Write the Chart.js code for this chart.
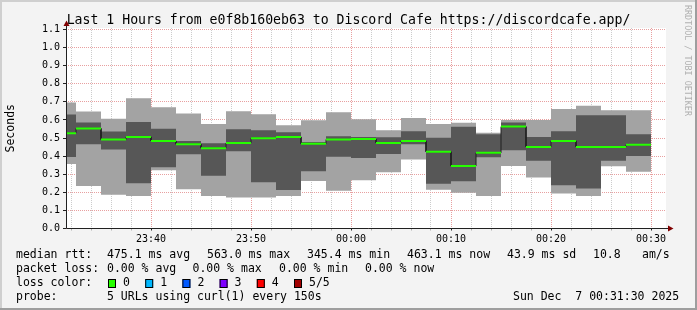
<!DOCTYPE html>
<html>
<head>
<meta charset="utf-8">
<script src="https://cdn.jsdelivr.net/npm/chart.js@4/dist/chart.umd.min.js"></script>
<style>
  html, body { margin: 0; padding: 0; background: #f3f3f3; }
  #wrap { width: 697px; height: 310px; }
</style>
</head>
<body>
<div id="wrap"><canvas id="chart" width="697" height="310"></canvas></div>
<script>
{
    const mono = 'DejaVu Sans Mono';

    // time range of the graph and the rrd step stamps (each value covers the 150s before its stamp)
    const axisStart = '23:31:30';
    const axisEnd = '00:31:30';
    const stamps = ['23:32:30', '23:35:00', '23:37:30', '23:40:00', '23:42:30', '23:45:00',
        '23:47:30', '23:50:00', '23:52:30', '23:55:00', '23:57:30', '00:00:00',
        '00:02:30', '00:05:00', '00:07:30', '00:10:00', '00:12:30', '00:15:00',
        '00:17:30', '00:20:00', '00:22:30', '00:25:00', '00:27:30', '00:30:00'];

    // sorted pings, seconds
    const pingMax = [0.696, 0.647, 0.606, 0.720, 0.670, 0.636, 0.578, 0.648, 0.632, 0.571, 0.598, 0.643,
        0.604, 0.543, 0.610, 0.578, 0.584, 0.529, 0.600, 0.599, 0.661, 0.678, 0.654, 0.654];
    const pingHigh = [0.630, 0.586, 0.536, 0.588, 0.551, 0.483, 0.471, 0.549, 0.543, 0.532, 0.478, 0.510,
        0.505, 0.504, 0.538, 0.501, 0.562, 0.521, 0.586, 0.506, 0.538, 0.626, 0.626, 0.521];
    const median = [0.527, 0.553, 0.492, 0.506, 0.484, 0.466, 0.444, 0.473, 0.499, 0.506, 0.468, 0.492,
        0.494, 0.473, 0.484, 0.424, 0.345, 0.418, 0.563, 0.451, 0.484, 0.451, 0.451, 0.463];
    const pingLow = [0.395, 0.465, 0.437, 0.250, 0.339, 0.410, 0.291, 0.427, 0.256, 0.213, 0.317, 0.396,
        0.390, 0.412, 0.466, 0.247, 0.261, 0.394, 0.433, 0.374, 0.239, 0.221, 0.374, 0.401];
    const pingMin = [0.356, 0.235, 0.187, 0.179, 0.322, 0.217, 0.180, 0.171, 0.171, 0.179, 0.263, 0.208,
        0.267, 0.311, 0.381, 0.214, 0.197, 0.180, 0.346, 0.282, 0.193, 0.179, 0.344, 0.313];

    const yTicks = [0.0, 0.1, 0.2, 0.3, 0.4, 0.5, 0.6, 0.7, 0.8, 0.9, 1.0, 1.1];
    const xLabels = ['23:40', '23:50', '00:00', '00:10', '00:20', '00:30'];

    const titleText = 'Last 1 Hours from e0f8b160eb63 to Discord Cafe https://discordcafe.app/';
    const rttStats = ['475.1 ms avg', '563.0 ms max', '345.4 ms min', '463.1 ms now', '43.9 ms sd', '10.8', 'am/s'];
    const lossStats = ['0.00 % avg', '0.00 % max', '0.00 % min', '0.00 % now'];
    const lossLabels = ['0', '1', '2', '3', '4', '5/5'];
    const lossColors = ['#26ff00', '#00b8ff', '#0059ff', '#7e00ff', '#ff0000', '#a10000'];
    const probeText = '5 URLs using curl(1) every 150s';
    const dateText = 'Sun Dec  7 00:31:30 2025';

    // minutes after 23:30
    function toMin(t) {
        const [h, m, s] = t.split(':').map(Number);
        return (h < 12 ? h + 24 : h) * 60 + m + s / 60 - (23 * 60 + 30);
    }
    function toClock(v) {
        const t = Math.round(23 * 60 + 30 + v);
        const h = Math.floor(t / 60) % 24, m = t % 60;
        return String(h).padStart(2, '0') + ':' + String(m).padStart(2, '0');
    }

    const xMin = toMin(axisStart);
    const xMax = toMin(axisEnd);
    const ends = stamps.map(toMin);
    const starts = ends.map(e => Math.max(e - 2.5, xMin));

    // each value as a flat step over its column
    function steps(vals) {
        let pts = [];
        vals.forEach((v, i) => pts.push({x: starts[i], y: v}, {x: ends[i], y: v}));
        return pts;
    }
    // same, but broken between columns (only the flat parts)
    function flats(vals) {
        let pts = [];
        vals.forEach((v, i) => pts.push({x: starts[i], y: v}, {x: ends[i], y: v}, {x: ends[i], y: null}));
        return pts;
    }

    const rrdFrame = {
        id: 'rrdFrame',
        beforeDraw(chart) {
            const {ctx, chartArea: a, width, height} = chart;
            ctx.save();
            ctx.fillStyle = '#f3f3f3';
            ctx.fillRect(0, 0, width, height);
            ctx.fillStyle = '#cfcfcf';
            ctx.fillRect(0, 0, width, 2);
            ctx.fillRect(0, 0, 2, height);
            ctx.fillStyle = '#9e9e9e';
            ctx.fillRect(0, height - 2, width, 2);
            ctx.fillRect(width - 2, 0, 2, height);
            ctx.fillStyle = '#ffffff';
            ctx.fillRect(a.left, a.top, a.right - a.left, a.bottom - a.top);
            ctx.restore();
        },
        afterDraw(chart) {
            const {ctx, chartArea: a} = chart;
            const x0 = Math.floor(a.left) + 0.5;
            const y0 = Math.floor(a.bottom) + 0.5;
            ctx.save();

            // axes
            ctx.strokeStyle = '#202020';
            ctx.lineWidth = 1;
            ctx.beginPath();
            ctx.moveTo(x0, 25);
            ctx.lineTo(x0, y0);
            ctx.lineTo(a.right + 4, y0);
            ctx.stroke();

            // arrows
            ctx.fillStyle = '#800000';
            ctx.beginPath();
            ctx.moveTo(x0 - 3, 26);
            ctx.lineTo(x0 + 3, 26);
            ctx.lineTo(x0, 20.5);
            ctx.closePath();
            ctx.fill();
            ctx.beginPath();
            ctx.moveTo(a.right + 2, y0 - 3);
            ctx.lineTo(a.right + 2, y0 + 3);
            ctx.lineTo(a.right + 7.5, y0);
            ctx.closePath();
            ctx.fill();

            // legend
            ctx.fillStyle = '#000';
            ctx.font = '11.5px "' + mono + '"';
            ctx.textBaseline = 'middle';
            ctx.textAlign = 'left';
            const rows = [255.5, 269.5, 283.5, 297.5];

            ctx.fillText('median rtt:', 16, rows[0]);
            [107, 207, 307, 407, 507, 593, 642].forEach((x, i) => ctx.fillText(rttStats[i], x, rows[0]));

            ctx.fillText('packet loss:', 16, rows[1]);
            [107, 192.5, 279, 365].forEach((x, i) => ctx.fillText(lossStats[i], x, rows[1]));

            ctx.fillText('loss color:', 16, rows[2]);
            lossLabels.forEach((l, i) => {
                const bx = 108 + i * 37.2;
                ctx.fillStyle = lossColors[i];
                ctx.fillRect(bx, 279, 8, 9);
                ctx.strokeStyle = '#000';
                ctx.strokeRect(bx + 0.5, 279.5, 7, 8);
                ctx.fillStyle = '#000';
                ctx.fillText(l, bx + 15, rows[2]);
            });

            ctx.fillText('probe:', 16, rows[3]);
            ctx.fillText(probeText, 107, rows[3]);
            ctx.fillText(dateText, 513, rows[3]);

            // watermark
            ctx.translate(687.5, 5);
            ctx.rotate(Math.PI / 2);
            ctx.fillStyle = '#b0b0b0';
            ctx.font = '8.4px "' + mono + '"';
            ctx.fillText('RRDTOOL / TOBI OETIKER', 0, 0);
            ctx.restore();
        }
    };

    const ctx = document.getElementById('chart');

    new Chart(ctx, {
        type: 'line',
        data: {
            datasets: [
                {label: 'median', data: flats(median), borderColor: '#26ff00', borderWidth: 2, pointRadius: 0, fill: false, order: 1},
                {label: 'median step', data: steps(median), borderColor: '#202020', borderWidth: 1, pointRadius: 0, fill: false, order: 2},
                {label: 'ping 2', data: steps(pingLow), borderColor: 'transparent', borderWidth: 0, pointRadius: 0, fill: false, order: 3},
                {label: 'ping 4', data: steps(pingHigh), borderColor: 'transparent', borderWidth: 0, pointRadius: 0, backgroundColor: '#575757', fill: '-1', order: 4},
                {label: 'ping 1', data: steps(pingMin), borderColor: 'transparent', borderWidth: 0, pointRadius: 0, fill: false, order: 5},
                {label: 'ping 5', data: steps(pingMax), borderColor: 'transparent', borderWidth: 0, pointRadius: 0, backgroundColor: '#a3a3a3', fill: '-1', order: 6}
            ]
        },
        options: {
            responsive: false,
            animation: false,
            devicePixelRatio: 1,
            layout: {padding: 0},
            plugins: {
                legend: {display: false},
                tooltip: {enabled: false},
                title: {
                    display: true,
                    text: titleText,
                    color: '#000',
                    font: {family: mono, size: 13.2, weight: 'normal', lineHeight: 1.2},
                    padding: {top: 12.16, bottom: 0}
                }
            },
            scales: {
                x: {
                    type: 'linear',
                    min: xMin,
                    max: xMax,
                    afterBuildTicks: scale => {
                        let t = [];
                        for (let v = Math.ceil(xMin / 2) * 2; v <= xMax; v += 2) t.push({value: v});
                        scale.ticks = t;
                    },
                    afterFit: scale => { scale.height = 81.5; },
                    ticks: {
                        autoSkip: false,
                        maxRotation: 0,
                        minRotation: 0,
                        color: '#000',
                        padding: 3,
                        font: {family: mono, size: 10},
                        callback: v => xLabels.includes(toClock(v)) ? toClock(v) : ''
                    },
                    grid: {
                        color: c => xLabels.includes(toClock(c.tick.value)) ? '#e8a0a0' : '#cccccc',
                        tickColor: c => xLabels.includes(toClock(c.tick.value)) ? '#202020' : '#b0b0b0',
                        tickLength: 2
                    },
                    border: {display: false, dash: [1, 1]}
                },
                y: {
                    min: 0,
                    max: 1.108,
                    afterBuildTicks: scale => { scale.ticks = yTicks.map(v => ({value: v})); },
                    afterFit: scale => { scale.width = 66; },
                    ticks: {
                        color: '#000',
                        padding: 3,
                        font: {family: mono, size: 10},
                        callback: v => v.toFixed(1)
                    },
                    grid: {color: '#e8a0a0', tickColor: '#202020', tickLength: 3},
                    border: {display: false, dash: [1, 1]},
                    title: {
                        display: true,
                        text: 'Seconds',
                        color: '#000',
                        font: {family: mono, size: 11.5},
                        padding: {top: 4, bottom: 0}
                    }
                },
                // empty right-hand margin, so the title centres on the whole image
                margin: {
                    position: 'right',
                    ticks: {display: false},
                    grid: {display: false},
                    border: {display: false},
                    afterFit: scale => { scale.width = 31; }
                }
            }
        },
        plugins: [rrdFrame]
    });
}
</script>
</body>
</html>
